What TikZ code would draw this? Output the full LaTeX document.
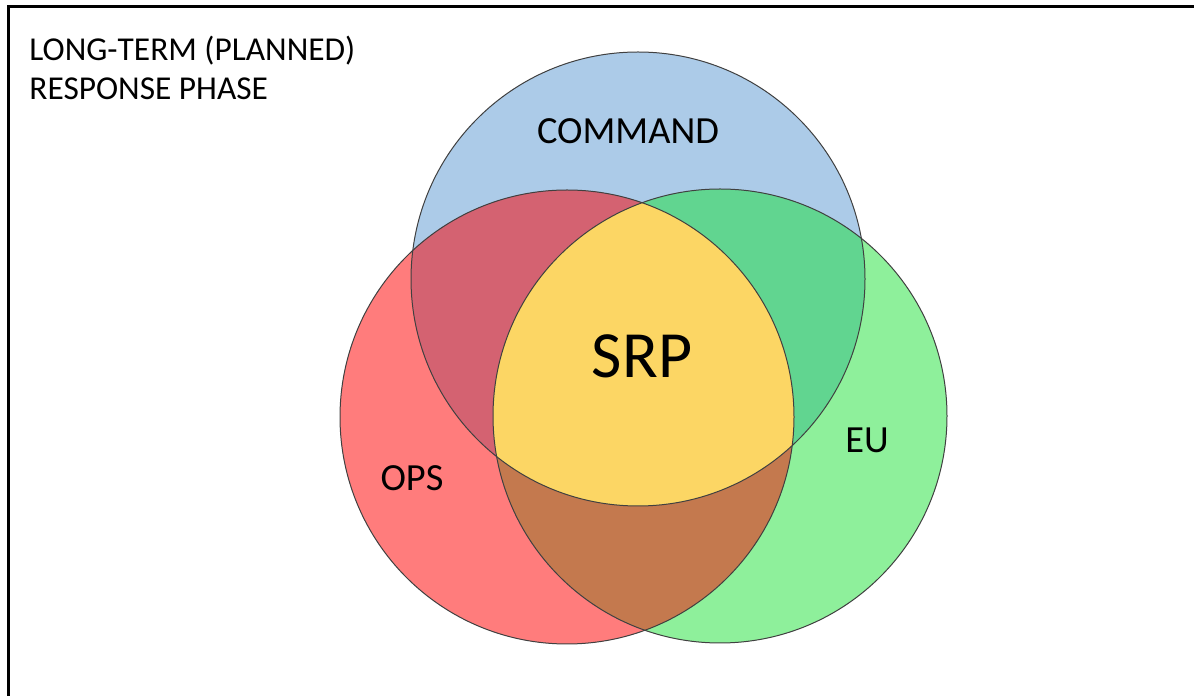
\documentclass[tikz,border=0pt]{standalone}
\usepackage{fontspec}
\setmainfont{Carlito}
\usetikzlibrary{positioning}

\definecolor{commandblue}{HTML}{ACCBE8}
\definecolor{opsred}{HTML}{FF7C7C}
\definecolor{eugreen}{HTML}{8EF09B}
\definecolor{commandops}{HTML}{D46271}
\definecolor{commandeu}{HTML}{61D590}
\definecolor{opseu}{HTML}{C4794E}
\definecolor{srpyellow}{HTML}{FCD664}

\begin{document}
\begin{tikzpicture}[
    x=0.5pt, y=0.5pt,
    frame/.style={draw=black, line width=1.5pt},
    venn/.style={draw=black!75, line width=0.5pt},
    setname/.style={font=\fontsize{19.2}{22}\selectfont, text=black}
]
    \useasboundingbox (0,0) rectangle (1194,696);

    % circle centres
    \coordinate (command) at (638,417);
    \coordinate (ops) at (567,279);
    \coordinate (eu) at (720,280);

    % frame
    \draw[frame] (1200,689) -- (8.5,689) -- (8.5,-10);

    % set fills
    \fill[commandblue] (command) circle (227);
    \fill[opsred] (ops) circle (227);
    \fill[eugreen] (eu) circle (227);

    % overlaps
    \begin{scope}
        \clip (command) circle (227);
        \fill[commandops] (ops) circle (227);
        \fill[commandeu] (eu) circle (227);
    \end{scope}
    \begin{scope}
        \clip (ops) circle (227);
        \fill[opseu] (eu) circle (227);
    \end{scope}
    \begin{scope}
        \clip (command) circle (227);
        \clip (ops) circle (227);
        \fill[srpyellow] (eu) circle (227);
    \end{scope}

    % outlines
    \draw[venn] (command) circle (227);
    \draw[venn] (ops) circle (227);
    \draw[venn] (eu) circle (227);

    % texts
    \node[anchor=north west, align=left, inner sep=0pt, font=\fontsize{16.7}{19.3}\selectfont](phase) at (29,660){LONG-TERM (PLANNED)\\RESPONSE PHASE};
    \node[setname](command_label) at (628,565){COMMAND};
    \node[setname](ops_label) at (412,218){OPS};
    \node[setname](eu_label) at (867,256){EU};
    \node[font=\fontsize{33}{38}\selectfont](srp_label) at (642,340){SRP};
\end{tikzpicture}
\end{document}
